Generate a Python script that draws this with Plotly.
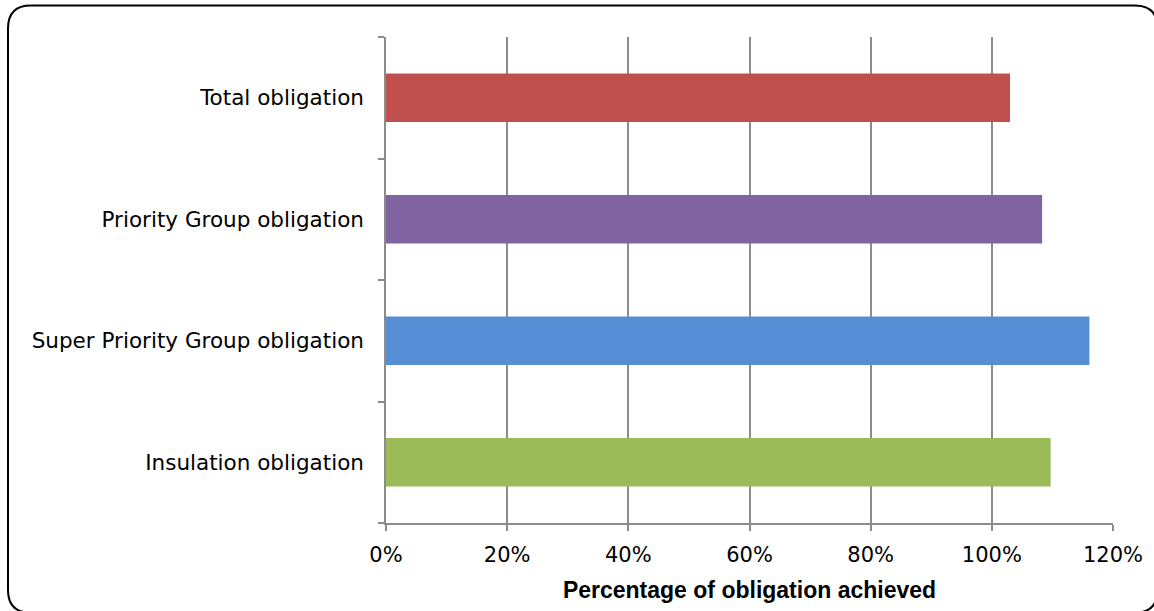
import plotly.graph_objects as go

# Share of each obligation that was achieved (fraction of target)
categories = ["Insulation obligation", "Super Priority Group obligation",
              "Priority Group obligation", "Total obligation"]
achieved = [1.097, 1.161, 1.083, 1.030]
bar_colors = ["#9BBB59", "#558ED5", "#8064A2", "#C0504D"]

x_ticks = [0, 0.2, 0.4, 0.6, 0.8, 1.0, 1.2]
x_tick_labels = ["0%", "20%", "40%", "60%", "80%", "100%", "120%"]

W, H = 1154, 611
M_L, M_R, M_T, M_B = 386, 41, 37, 88
plot_w = W - M_L - M_R
plot_h = H - M_T - M_B


def px_to_paper(x, y):
    return (x - M_L) / plot_w, 1 - (y - M_T) / plot_h


# rounded frame around the whole chart
fx0, fy0, fx1, fy1, rad = 8, 5.5, 1157.6, 612.75, 23
pts = [
    ("M", fx0 + rad, fy0), ("L", fx1 - rad, fy0), ("Q", fx1, fy0, fx1, fy0 + rad),
    ("L", fx1, fy1 - rad), ("Q", fx1, fy1, fx1 - rad, fy1),
    ("L", fx0 + rad, fy1), ("Q", fx0, fy1, fx0, fy1 - rad),
    ("L", fx0, fy0 + rad), ("Q", fx0, fy0, fx0 + rad, fy0),
]
path = ""
for p in pts:
    cmd = p[0]
    coords = p[1:]
    seg = []
    for i in range(0, len(coords), 2):
        px, py = px_to_paper(coords[i], coords[i + 1])
        seg.append(f"{px:.5f},{py:.5f}")
    path += cmd + " ".join(seg) + " "
path += "Z"

fig = go.Figure(
    go.Bar(
        x=achieved,
        y=categories,
        orientation="h",
        marker=dict(color=bar_colors, line=dict(width=0)),
        hoverinfo="skip",
    )
)

grid_col = "#8C8C8C"

fig.update_layout(
    width=W,
    height=H,
    margin=dict(l=M_L, r=M_R, t=M_T, b=M_B),
    paper_bgcolor="white",
    plot_bgcolor="white",
    bargap=0.6,
    showlegend=False,
    font=dict(family="DejaVu Sans", color="#000000"),
    shapes=[
        dict(type="path", xref="paper", yref="paper", path=path,
             line=dict(color="black", width=2), fillcolor="rgba(0,0,0,0)",
             layer="above"),
    ],
)

fig.update_xaxes(
    range=[0, 1.2],
    tickvals=x_ticks,
    ticktext=x_tick_labels,
    showgrid=True,
    gridcolor=grid_col,
    gridwidth=1.5,
    zeroline=False,
    showline=True,
    linecolor=grid_col,
    linewidth=1.5,
    ticks="outside",
    ticklen=6,
    tickcolor=grid_col,
    tickwidth=1.5,
    ticklabelstandoff=6,
    tickfont=dict(family="DejaVu Sans", size=21, color="#000000"),
    title=dict(
        text="<b>Percentage of obligation achieved</b>",
        font=dict(family="Liberation Sans", size=23, color="#000000"),
        standoff=16,
    ),
)

fig.update_yaxes(
    type="category",
    categoryorder="array",
    categoryarray=categories,
    tickson="boundaries",
    showgrid=False,
    zeroline=False,
    showline=True,
    linecolor=grid_col,
    linewidth=1.5,
    ticks="outside",
    ticklen=6,
    tickcolor=grid_col,
    tickwidth=1.5,
    ticklabelstandoff=16,
    tickfont=dict(family="DejaVu Sans", size=21.5, color="#000000"),
)

fig.write_html("out.html")
